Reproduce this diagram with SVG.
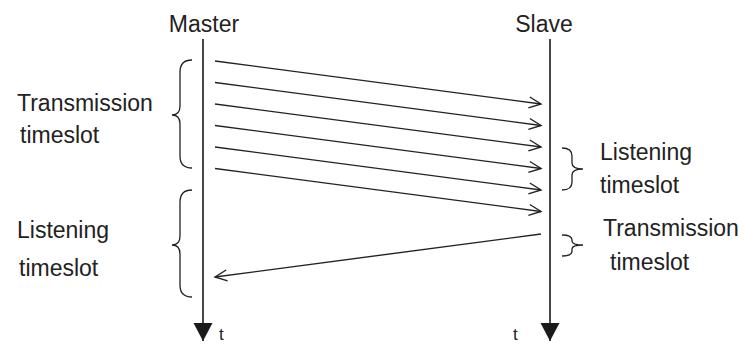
<svg xmlns="http://www.w3.org/2000/svg" width="746" height="345" viewBox="0 0 746 345">
<defs>
<marker id="open" markerUnits="userSpaceOnUse" markerWidth="16" markerHeight="14" refX="13" refY="7" orient="auto" overflow="visible">
<path d="M1,1.5 L13,7 L1,12.5" fill="none" stroke="#222" stroke-width="1.4"/>
</marker>
<marker id="solid" markerUnits="userSpaceOnUse" markerWidth="20" markerHeight="20" refX="18" refY="9.5" orient="auto" overflow="visible">
<path d="M0,0 L18,9.5 L0,19 Z" fill="#1a1a1a"/>
</marker>
</defs>
<style>
text{font-family:"Liberation Sans",Arial,sans-serif;font-size:23px;fill:#222}
.t{font-size:17px}
.life{stroke:#1a1a1a;stroke-width:1.6;fill:none}
.msg{stroke:#222;stroke-width:1.4;fill:none}
.brace{stroke:#222;stroke-width:1.3;fill:none}
</style>
<rect width="746" height="345" fill="#fff"/>
<g id="master">
<text x="204" y="32" text-anchor="middle">Master</text>
<line class="life" x1="203" y1="39" x2="203" y2="341" marker-end="url(#solid)"/>
<text class="t" x="219" y="340">t</text>
</g>
<g id="slave">
<text x="544" y="32" text-anchor="middle">Slave</text>
<line class="life" x1="550" y1="39" x2="550" y2="341" marker-end="url(#solid)"/>
<text class="t" x="513" y="340">t</text>
</g>
<g id="master-tx">
<path class="brace" d="M192,60 Q180,60 180,72 L180,106 Q180,115 172,115 Q180,115 180,124 L180,156 Q180,168 192,168"/>
<text x="17" y="111">Transmission</text>
<text x="20" y="143">timeslot</text>
</g>
<g id="master-rx">
<path class="brace" d="M192,190 Q180,190 180,202 L180,236 Q180,245 172,245 Q180,245 180,254 L180,285 Q180,297 192,297"/>
<text x="17" y="238">Listening</text>
<text x="19" y="276">timeslot</text>
</g>
<g id="slave-rx">
<path class="brace" d="M562,148 Q572,148 572,156 L572,163 Q572,169 583,169 Q572,169 572,175 L572,182 Q572,190 562,190"/>
<text x="600" y="160">Listening</text>
<text x="600" y="193">timeslot</text>
</g>
<g id="slave-tx">
<path class="brace" d="M562,235 Q572,235 572,240 L572,241 Q572,245 583,245 Q572,245 572,249 L572,251 Q572,256 562,256"/>
<text x="603" y="236">Transmission</text>
<text x="610" y="270">timeslot</text>
</g>
<g id="connectors">
<line class="msg" x1="215" y1="61" x2="541" y2="104" marker-end="url(#open)"/>
<line class="msg" x1="215" y1="82.5" x2="541" y2="125.5" marker-end="url(#open)"/>
<line class="msg" x1="215" y1="104" x2="541" y2="147" marker-end="url(#open)"/>
<line class="msg" x1="215" y1="125.5" x2="541" y2="168.5" marker-end="url(#open)"/>
<line class="msg" x1="215" y1="147" x2="541" y2="190" marker-end="url(#open)"/>
<line class="msg" x1="215" y1="168.5" x2="541" y2="211.5" marker-end="url(#open)"/>
<line class="msg" x1="541" y1="234" x2="215" y2="277" marker-end="url(#open)"/>
</g>
</svg>
